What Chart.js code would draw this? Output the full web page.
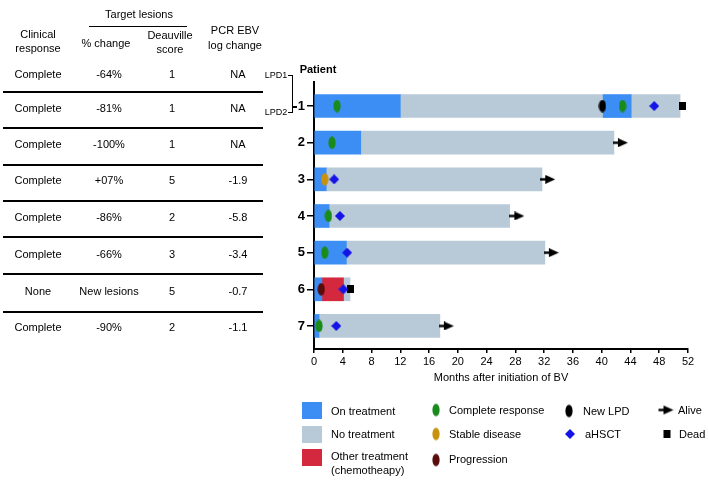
<!DOCTYPE html>
<html><head><meta charset="utf-8">
<script src="https://cdn.jsdelivr.net/npm/chart.js@4.4.0/dist/chart.umd.min.js"></script>
<style>
html,body{margin:0;padding:0;background:#fff;}
body{width:709px;height:482px;position:relative;overflow:hidden;font-family:"Liberation Sans",Arial,Helvetica,sans-serif;font-size:11px;color:#000;}
.t{position:absolute;white-space:nowrap;transform:translate(-50%,-50%);line-height:1;}
.l{position:absolute;white-space:nowrap;transform:translateY(-50%);line-height:1;}
.hl{position:absolute;background:#000;}
.mk{position:absolute;transform:translate(-50%,-50%);}
#c{position:absolute;left:0;top:0;}
</style></head><body>
<canvas id="c" width="709" height="482"></canvas>
<script>
// ---------- data ----------
const patients = [1, 2, 3, 4, 5, 6, 7];
const clinicalResponse = ['Complete','Complete','Complete','Complete','Complete','Complete','None','Complete'];
const pctChange = ['-64%','-81%','-100%','+07%','-86%','-66%','New lesions','-90%'];
const deauvilleScore = ['1','1','1','5','2','3','5','2'];
const pcrEbvLogChange = ['NA','NA','NA','-1.9','-5.8','-3.4','-0.7','-1.1'];
const xTicks = [0, 4, 8, 12, 16, 20, 24, 28, 32, 36, 40, 44, 48, 52];
// bar segments: [patient, start month, end month]
const onTreatment = [[1,0,12],[1,40.2,44.1],[2,0,6.5],[3,0,1.7],[4,0,2.1],[5,0,4.5],[6,0,1.1],[7,0,0.7]];
const noTreatment = [[1,12,40.2],[1,44.1,50.9],[2,6.5,41.7],[3,1.7,31.7],[4,2.1,27.2],[5,4.5,32.1],[6,4.1,5.0],[7,0.7,17.5]];
const otherTreatment = [[6,1.1,4.1]];
// events: [patient, month]
const completeResponse = [[1,3.2],[1,42.9],[2,2.5],[4,2.0],[5,1.5],[7,0.7]];
const stableDisease = [[3,1.5]];
const progression = [[6,1.0]];
const newLPD = [[1,40.1]];
const aHSCT = [[1,47.3],[3,2.8],[4,3.6],[5,4.6],[6,4.1],[7,3.1]];
const alive = [[2,42.6],[3,32.5],[4,28.2],[5,33.0],[7,18.4]];
const dead = [[1,51.2],[6,5.1]];

// ---------- colours ----------
const C_ON = '#3d8ef4', C_NO = '#b8c9d7', C_OTHER = '#d3283d';
const C_CR = '#1a8a1a', C_SD = '#c8920e', C_PR = '#5a0b0b', C_NEW = '#000000', C_HSCT = '#1414e6';

// ---------- marker images ----------
function ellipse(color){const c=document.createElement('canvas');c.width=8;c.height=13;const x=c.getContext('2d');x.fillStyle=color;x.beginPath();x.ellipse(4,6.5,3.6,6.2,0,0,Math.PI*2);x.fill();return c;}
function arrow(){const c=document.createElement('canvas');c.width=15;c.height=9;const x=c.getContext('2d');x.fillStyle='#000';x.fillRect(0,3.3,7,2.4);x.beginPath();x.moveTo(5,0);x.lineTo(15,4.5);x.lineTo(5,9);x.closePath();x.fill();return c;}
function diamond(){const c=document.createElement('canvas');c.width=10;c.height=10;const x=c.getContext('2d');x.fillStyle=C_HSCT;x.beginPath();x.moveTo(5,0);x.lineTo(10,5);x.lineTo(5,10);x.lineTo(0,5);x.closePath();x.fill();return c;}
function square(){const c=document.createElement('canvas');c.width=7;c.height=8;const x=c.getContext('2d');x.fillStyle='#000';x.fillRect(0,0,7,8);return c;}

// ---------- table (HTML text) ----------
const body = document.body;
function txt(s, x, y, cls, extra){const d=document.createElement('div');d.className=cls||'t';d.textContent=s;d.style.left=x+'px';d.style.top=y+'px';if(extra)Object.assign(d.style,extra);body.appendChild(d);return d;}
function line(x,y,w,h){const d=document.createElement('div');d.className='hl';d.style.left=x+'px';d.style.top=y+'px';d.style.width=w+'px';d.style.height=h+'px';body.appendChild(d);}
function mk(canvas,x,y){canvas.className='mk';canvas.style.left=x+'px';canvas.style.top=y+'px';body.appendChild(canvas);}

txt('Target lesions',139,14);
line(89,25.5,98,1.5);
txt('Clinical',38,34); txt('response',38,48);
txt('% change',106,43);
txt('Deauville',170,35); txt('score',170,49);
txt('PCR EBV',235,30); txt('log change',235,45);
const rowY = [74,108,144,180,217,254,291,327];
const sepY = [91,127,164,200,236,273,311];
const colX = [38,109,172,238];
clinicalResponse.forEach((v,i)=>{
  txt(v,colX[0],rowY[i]); txt(pctChange[i],colX[1],rowY[i]);
  txt(deauvilleScore[i],colX[2],rowY[i]); txt(pcrEbvLogChange[i],colX[3],rowY[i]);
});
sepY.forEach(y=>line(3,y,260,2));

// patient title and LPD bracket
txt('Patient',318,69,'t',{fontWeight:'bold'});
txt('LPD1',276,75,'t',{fontSize:'9px'});
txt('LPD2',276,112,'t',{fontSize:'9px'});
line(288,74.5,5,1.3); line(288,111.5,5,1.3); line(291.7,74.5,1.5,38.3); line(292,106,5,1.5);

// legend
[[C_ON,410],[C_NO,434],[C_OTHER,457.5]].forEach(([c,y])=>{const d=document.createElement('div');d.style.cssText=`position:absolute;left:302px;top:${y-8.5}px;width:20px;height:17px;background:${c}`;body.appendChild(d);});
txt('On treatment',331,411,'l'); txt('No treatment',331,434,'l');
txt('Other treatment',331,456,'l'); txt('(chemotheapy)',331,470,'l');
mk(ellipse(C_CR),436,410); txt('Complete response',449,410,'l');
mk(ellipse(C_SD),436,434); txt('Stable disease',449,434,'l');
mk(ellipse(C_PR),436,460); txt('Progression',449,459,'l');
mk(ellipse(C_NEW),569,411); txt('New LPD',583,411,'l');
mk(diamond(),570,434); txt('aHSCT',585,434,'l');
mk(arrow(),666,410); txt('Alive',678,410,'l');
mk(square(),667,434); txt('Dead',679,434,'l');

// ---------- chart ----------
const seg = a => a.map(([p,s,e]) => ({x:[s,e], y:p}));
const pts = a => a.map(([p,m]) => ({x:m, y:p}));
const barDs = (label, data, color) => ({type:'bar', label, data:seg(data), indexAxis:'y', grouped:false, backgroundColor:color, borderWidth:0, barThickness:23, clip:false, order:5});
const ptDs = (label, data, style) => ({type:'scatter', label, data:pts(data), pointStyle:style, pointRadius:5, pointHoverRadius:5, showLine:false, clip:false, order:1});

new Chart(document.getElementById('c'), {
  data: {
    datasets: [
      ptDs('Complete response', completeResponse, ellipse(C_CR)),
      ptDs('Stable disease', stableDisease, ellipse(C_SD)),
      ptDs('Progression', progression, ellipse(C_PR)),
      ptDs('New LPD', newLPD, ellipse(C_NEW)),
      ptDs('aHSCT', aHSCT, diamond()),
      ptDs('Alive', alive, arrow()),
      ptDs('Dead', dead, square()),
      barDs('On treatment', onTreatment, C_ON),
      barDs('Other treatment (chemotheapy)', otherTreatment, C_OTHER),
      barDs('No treatment', noTreatment, C_NO)
    ]
  },
  options: {
    responsive:false, animation:false, devicePixelRatio:1,
    layout:{padding:{left:240, right:21, top:82, bottom:97}},
    plugins:{legend:{display:false}, tooltip:{enabled:false}},
    scales:{
      x:{type:'linear', position:'bottom', min:0, max:52, offset:false,
        afterBuildTicks:s=>{s.ticks=xTicks.map(v=>({value:v}));},
        afterFit:s=>{s.height=36;},
        grid:{drawOnChartArea:false, drawTicks:true, tickLength:4, color:'#000', lineWidth:1.5, offset:false},
        border:{display:true, color:'#000', width:2},
        ticks:{color:'#000', font:{size:11, family:'"Liberation Sans", Arial, sans-serif'}, padding:2, maxRotation:0},
        title:{display:true, text:'Months after initiation of BV', color:'#000', font:{size:11, family:'"Liberation Sans", Arial, sans-serif'}, padding:0}
      },
      y:{type:'linear', position:'left', min:0.344, max:7.629, reverse:true, offset:false,
        afterBuildTicks:s=>{s.ticks=patients.map(v=>({value:v}));},
        afterFit:s=>{s.width=74;},
        grid:{drawOnChartArea:false, drawTicks:true, tickLength:7, color:'#000', lineWidth:1.5, offset:false},
        border:{display:true, color:'#000', width:2},
        ticks:{color:'#000', font:{size:13, weight:'bold', family:'"Liberation Sans", Arial, sans-serif'}, padding:2, autoSkip:false, callback:v=>String(v)}
      }
    }
  }
});
</script>
</body></html>
